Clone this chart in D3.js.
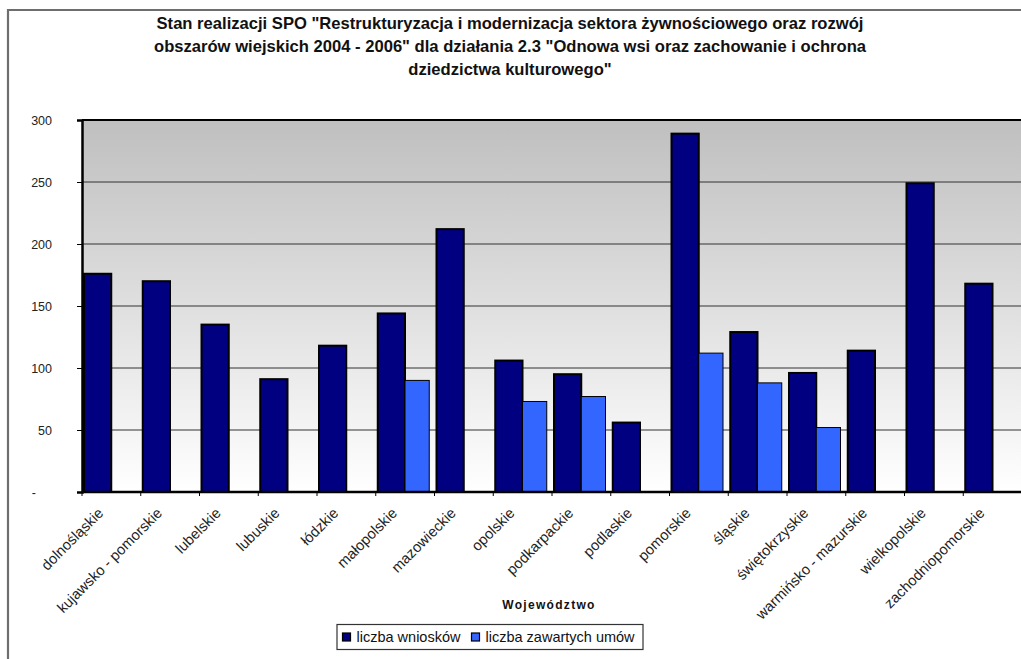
<!DOCTYPE html>
<html><head><meta charset="utf-8">
<script src="https://cdn.jsdelivr.net/npm/d3@7"></script>
<style>
html,body{margin:0;padding:0;background:#fff;overflow:hidden;}
svg{display:block;font-family:"Liberation Sans",Arial,sans-serif;}
</style></head>
<body><svg id="c" width="1021" height="659"></svg>
<script>
const titleLines = [
  'Stan realizacji SPO "Restrukturyzacja i modernizacja sektora żywnościowego oraz rozwój',
  'obszarów wiejskich 2004 - 2006" dla działania 2.3 "Odnowa wsi oraz zachowanie i ochrona',
  'dziedzictwa kulturowego"'
];
const categories = ["dolnośląskie","kujawsko - pomorskie","lubelskie","lubuskie","łódzkie","małopolskie","mazowieckie","opolskie","podkarpackie","podlaskie","pomorskie","śląskie","świętokrzyskie","warmińsko - mazurskie","wielkopolskie","zachodniopomorskie"];
const seriesNames = ["liczba wniosków","liczba zawartych umów"];
const wnioski = [176,170,135,91,118,144,212,106,95,56,289,129,96,114,249,168];
const umowy   = [null,null,null,null,null,90,null,73,77,null,112,88,52,null,null,null];
const yTicks = [0,50,100,150,200,250,300];
const yTickLabels = ["-","50","100","150","200","250","300"];
const xTitle = "Województwo";
const colors = ["#000080","#3366ff"];

const svg = d3.select("#c");
const L = 82, R = 1022, T = 120, B = 492;

// outer frame
svg.append("path").attr("d","M8,660 V10 H1021").attr("fill","none").attr("stroke","#6e6e6e").attr("stroke-width",2.2);

// title
svg.append("g").selectAll("text").data(titleLines).join("text")
  .attr("x",510).attr("y",(d,i)=>29+i*23).attr("text-anchor","middle")
  .attr("font-size",16.6).attr("font-weight","bold").attr("fill","#111").text(d=>d);

const x0 = d3.scaleBand().domain(categories).range([L,R]).padding(0);
const x1 = d3.scaleBand().domain(seriesNames).range([2, 56.5]).padding(0);
const y = d3.scaleLinear().domain([0,300]).range([B,T]);

// gradient
const defs = svg.append("defs");
const g = defs.append("linearGradient").attr("id","bg").attr("x1",0).attr("y1",0).attr("x2",0).attr("y2",1);
g.append("stop").attr("offset","0%").attr("stop-color","#bfbfbf");
g.append("stop").attr("offset","100%").attr("stop-color","#ffffff");
svg.append("rect").attr("x",L).attr("y",T).attr("width",R-L).attr("height",B-T).attr("fill","url(#bg)");

// gridlines
svg.append("g").selectAll("line").data(yTicks.filter(d=>d>0)).join("line")
  .attr("x1",L).attr("x2",R).attr("y1",d=>y(d)).attr("y2",d=>y(d))
  .attr("stroke",d=>d===300?"#000":"#333").attr("stroke-width",d=>d===300?2:1.2);

// bars
const data = categories.map((c,i)=>({c, vals:[wnioski[i], umowy[i]]}));
const grp = svg.append("g").selectAll("g").data(data).join("g").attr("transform",d=>`translate(${x0(d.c)},0)`);
grp.selectAll("rect").data(d=>d.vals.map((v,j)=>({s:seriesNames[j],v,j})).filter(d=>d.v!=null)).join("rect")
  .attr("x",d=>x1(d.s)).attr("y",d=>y(d.v))
  .attr("width",d=>d.j===0?x1.bandwidth():x1.bandwidth()-3)
  .attr("height",d=>y(0)-y(d.v))
  .attr("fill",d=>colors[d.j]).attr("stroke","#000").attr("stroke-width",d=>d.j===0?2:1);

// y axis
const yAxis = d3.axisLeft(y).tickValues(yTicks).tickSize(5).tickFormat((d,i)=>yTickLabels[i]);
const ya = svg.append("g").attr("transform",`translate(${L},0)`).call(yAxis);
ya.select(".domain").attr("stroke","#000").attr("stroke-width",2.5);
ya.selectAll(".tick line").attr("stroke","#000");
ya.selectAll(".tick text").attr("font-size",12.5).attr("fill","#222").attr("font-family","Liberation Sans, Arial, sans-serif").attr("x",-30).attr("text-anchor","end");
ya.selectAll(".tick text").filter(d=>d===0).attr("x",-46);

// x axis
const xa = svg.append("g").attr("transform",`translate(0,${B})`);
xa.append("line").attr("x1",L).attr("x2",R).attr("stroke","#000").attr("stroke-width",2.5);
xa.selectAll("line.t").data(categories.map(c=>x0(c)).concat([R])).join("line").attr("class","t")
  .attr("x1",d=>d).attr("x2",d=>d).attr("y1",0).attr("y2",4).attr("stroke","#000");
xa.selectAll("text").data(categories).join("text")
  .attr("transform",d=>`translate(${x0(d)+x0.bandwidth()/2-7},22) rotate(-45)`)
  .attr("text-anchor","end").attr("font-size",14.7).attr("fill","#222").text(d=>d);

// x title
svg.append("text").attr("x",549).attr("y",609).attr("text-anchor","middle").attr("font-size",12)
  .attr("font-weight","bold").attr("letter-spacing",1.3).attr("fill","#111").text(xTitle);

// legend
const lg = svg.append("g");
lg.append("rect").attr("x",337).attr("y",624.5).attr("width",306).attr("height",25).attr("fill","#fff").attr("stroke","#333").attr("stroke-width",1.2);
const legX = [342.5, 471.5];
seriesNames.forEach((s,i)=>{
  lg.append("rect").attr("x",legX[i]).attr("y",633).attr("width",8).attr("height",8).attr("fill",colors[i]).attr("stroke","#000").attr("stroke-width",1.2);
  lg.append("text").attr("x",legX[i]+14).attr("y",642).attr("font-size",14.5).attr("fill","#111").text(s);
});
</script></body></html>
